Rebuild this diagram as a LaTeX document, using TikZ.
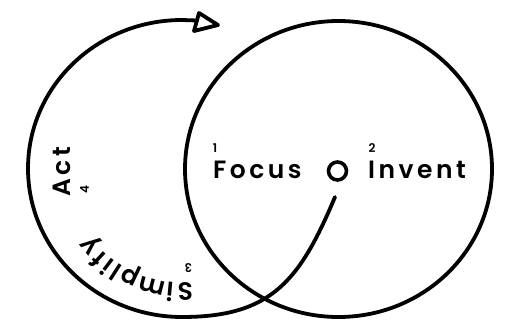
\documentclass[tikz,border=0pt]{standalone}
\usepackage{fontspec}
\usetikzlibrary{calc,shapes.geometric}
\newfontfamily\pop{Poppins}[UprightFont=* SemiBold]
\newfontfamily\popls{Poppins}[UprightFont=* SemiBold, LetterSpace=14]
\tikzset{
  ink/.style={line width=3.8pt, line cap=round, line join=round},
  bigword/.style={font=\popls\fontsize{25}{25}\selectfont, inner sep=0pt},
  letter/.style={font=\pop\fontsize{25}{25}\selectfont, inner sep=0pt},
  num/.style={font=\pop\fontsize{12}{12}\selectfont, inner sep=0pt},
}
\begin{document}
\begin{tikzpicture}[x=1pt,y=-1pt]
\useasboundingbox (0,0) rectangle (514,321);
% right circle
\node[ink, draw, ellipse, minimum width=307pt, minimum height=296pt, inner sep=0pt] (big) at (338.5,169) {};
% hub
\node[draw, circle, line width=3.6pt, minimum size=18pt, inner sep=0pt] (hub) at (337.5,171) {};
% loop
\coordinate (s) at (335,197);
\coordinate (lc) at (182,168.5);
\coordinate (e) at (197,20.5);
\draw[ink] (s) .. controls (300,280) and (272,317) .. (182,317)
  arc[start angle=90, end angle=270, x radius=154, y radius=148.5] -- (e);
\coordinate (t1) at (199,13);
\coordinate (t2) at (218,25);
\coordinate (t3) at (194,31);
\draw[ink] (t1) -- (t2) -- (t3) -- cycle;
% words
\node[bigword, anchor=base west] (focus) at (213,178) {Focus};
\node[bigword, anchor=base west] (invent) at (368,178) {Invent};
\node[num] (n1) at (215,148) {1};
\node[num] (n2) at (372,148) {2};
\node[bigword, rotate=90, anchor=base west] (act) at (70,197) {Act};
\node[num, rotate=90] (n4) at (84.5,190) {4};
\foreach \ch/\ang [count=\k] in {S/88.5, i/95.3, m/104.2, p/115.6, l/122.7, i/127.4, f/132.8, y/140.0}
  \node[letter, rotate={-\ang-90}, anchor=base] (sl\k) at ($(lc)+(\ang:114)$) {\ch};
\node[num, rotate=-178] (n3) at (188.5,268) {3};
\end{tikzpicture}
\end{document}
